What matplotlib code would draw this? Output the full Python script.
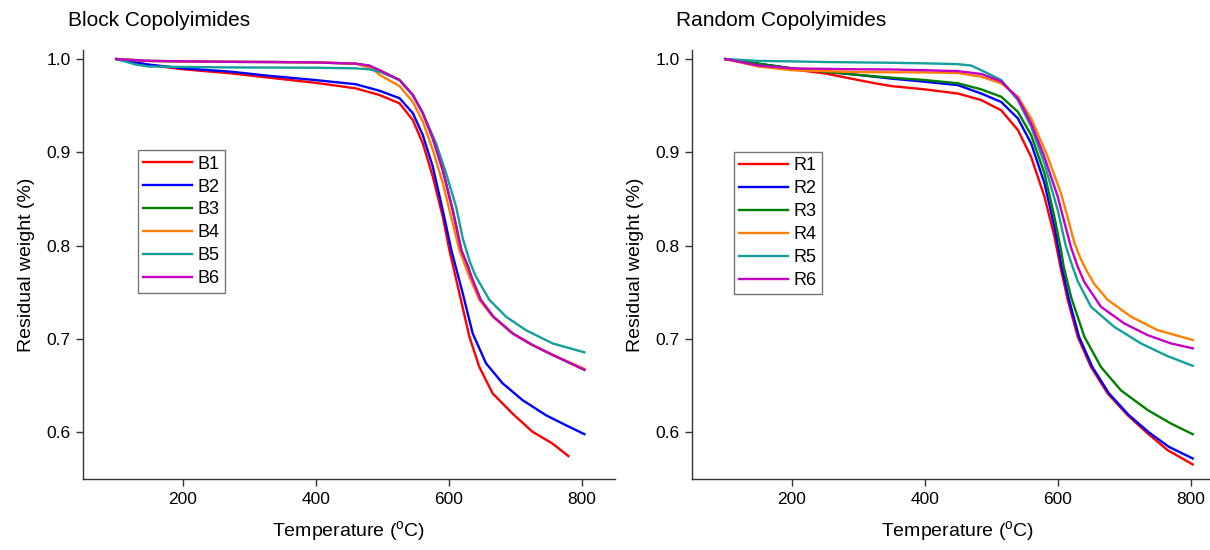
import numpy as np
import matplotlib.pyplot as plt

plt.rcParams['font.family'] = ['Liberation Sans', 'DejaVu Sans']
plt.rcParams['mathtext.default'] = 'regular'

# Block copolyimides: temperature (C) and residual weight fraction
b1_t = [100, 149, 201, 273, 330, 399, 460, 496, 526, 546, 561, 576, 591, 601, 616, 631, 646, 666, 696, 726, 756, 780]
b1_w = [1.000, 0.9936, 0.989, 0.9846, 0.980, 0.9746, 0.9686, 0.9614, 0.9525, 0.9346, 0.9096, 0.874, 0.831, 0.795,
        0.749, 0.7025, 0.670, 0.6417, 0.620, 0.6006, 0.588, 0.5745]
b2_t = [100, 149, 201, 273, 330, 399, 460, 496, 526, 546, 561, 576, 591, 604, 621, 636, 656, 681, 711, 746, 776, 804]
b2_w = [1.000, 0.994, 0.990, 0.9864, 0.982, 0.9775, 0.973, 0.966, 0.958, 0.942, 0.9185, 0.8846, 0.838, 0.795,
        0.749, 0.706, 0.674, 0.6525, 0.6345, 0.6184, 0.6077, 0.598]
b3_t = [100, 149, 201, 273, 330, 399, 460, 480, 496, 526, 546, 561, 576, 591, 606, 619, 629, 634, 648, 667, 696, 726, 756, 804]
b3_w = [1.000, 0.998, 0.9975, 0.997, 0.9968, 0.9964, 0.995, 0.993, 0.988, 0.9775, 0.9614, 0.942, 0.915, 0.881,
        0.838, 0.795, 0.7775, 0.7667, 0.742, 0.724, 0.706, 0.6935, 0.683, 0.667]
b4_t = [100, 149, 201, 273, 330, 399, 460, 485, 496, 526, 546, 561, 576, 591, 606, 616, 631, 646, 666, 696, 726, 756, 804]
b4_w = [1.000, 0.998, 0.9975, 0.997, 0.9968, 0.9965, 0.995, 0.990, 0.983, 0.971, 0.954, 0.933, 0.9025, 0.867,
        0.824, 0.795, 0.7667, 0.742, 0.724, 0.706, 0.6935, 0.683, 0.668]
b5_t = [100, 130, 149, 201, 273, 399, 460, 480, 496, 526, 546, 561, 581, 596, 611, 621, 632, 641, 661, 686, 716, 756, 804]
b5_w = [1.000, 0.994, 0.992, 0.9915, 0.991, 0.9907, 0.990, 0.989, 0.9864, 0.9775, 0.9614, 0.942, 0.9096, 0.8775,
        0.842, 0.808, 0.782, 0.7667, 0.742, 0.724, 0.7095, 0.6953, 0.6857]
b6_t = b3_t
b6_w = [1.000, 0.998, 0.9975, 0.997, 0.9968, 0.9964, 0.995, 0.993, 0.988, 0.9775, 0.9614, 0.942, 0.915, 0.881,
        0.838, 0.795, 0.7775, 0.7667, 0.742, 0.724, 0.706, 0.6935, 0.683, 0.667]

# Random copolyimides
r1_t = [100, 150, 200, 250, 300, 325, 350, 400, 450, 485, 515, 540, 560, 580, 595, 604, 615, 630, 650, 675, 705, 735, 765, 803]
r1_w = [1.000, 0.9946, 0.989, 0.9846, 0.9775, 0.974, 0.971, 0.9675, 0.963, 0.956, 0.945, 0.924, 0.895, 0.8525,
        0.81, 0.7775, 0.742, 0.7025, 0.670, 0.6417, 0.6184, 0.599, 0.581, 0.5656]
r2_t = [100, 150, 200, 250, 300, 350, 400, 450, 485, 515, 540, 560, 580, 595, 606, 617, 632, 652, 677, 707, 737, 767, 803]
r2_w = [1.000, 0.995, 0.990, 0.9864, 0.983, 0.979, 0.9757, 0.972, 0.963, 0.954, 0.9364, 0.9096, 0.867, 0.82,
        0.7775, 0.742, 0.7025, 0.670, 0.6417, 0.6184, 0.600, 0.5845, 0.572]
r3_t = [100, 150, 200, 250, 300, 350, 400, 450, 485, 515, 540, 560, 580, 595, 605, 609, 620, 640, 665, 695, 735, 770, 803]
r3_w = [1.000, 0.995, 0.990, 0.9864, 0.983, 0.980, 0.9775, 0.974, 0.9675, 0.9596, 0.9435, 0.9185, 0.8775, 0.831,
        0.795, 0.7775, 0.745, 0.7025, 0.670, 0.645, 0.624, 0.6095, 0.598]
r4_t = [100, 150, 200, 250, 300, 350, 400, 450, 485, 515, 540, 560, 585, 605, 615, 625, 635, 645, 655, 675, 710, 750, 803]
r4_w = [1.000, 0.992, 0.988, 0.987, 0.986, 0.9858, 0.9857, 0.985, 0.981, 0.974, 0.9596, 0.9364, 0.895, 0.856,
        0.830, 0.803, 0.785, 0.771, 0.759, 0.742, 0.724, 0.7095, 0.699]
r5_t = [100, 150, 200, 250, 300, 350, 400, 450, 470, 485, 515, 540, 560, 580, 600, 612, 622, 630, 650, 685, 725, 765, 803]
r5_w = [1.000, 0.998, 0.9975, 0.9968, 0.9964, 0.996, 0.9954, 0.9945, 0.993, 0.988, 0.9775, 0.956, 0.9275, 0.888,
        0.838, 0.800, 0.778, 0.762, 0.7345, 0.713, 0.6953, 0.6817, 0.6713]
r6_t = [100, 150, 200, 250, 300, 350, 400, 450, 485, 515, 540, 560, 580, 600, 610, 620, 630, 640, 665, 700, 735, 770, 803]
r6_w = [1.000, 0.993, 0.990, 0.9895, 0.989, 0.9888, 0.988, 0.987, 0.984, 0.976, 0.958, 0.931, 0.895, 0.8525,
        0.825, 0.798, 0.7775, 0.761, 0.7345, 0.7167, 0.7042, 0.6953, 0.690]

block_series = [(b1_t, b1_w), (b2_t, b2_w), (b3_t, b3_w), (b4_t, b4_w), (b5_t, b5_w), (b6_t, b6_w)]
random_series = [(r1_t, r1_w), (r2_t, r2_w), (r3_t, r3_w), (r4_t, r4_w), (r5_t, r5_w), (r6_t, r6_w)]
colors = ['#ff0000', '#0000ff', '#008000', '#ff8000', '#13a09a', '#c400c4']


def style_axes(ax):
    ax.set_xlim(50, 850)
    ax.set_ylim(0.55, 1.01)
    ax.set_xticks([200, 400, 600, 800])
    ax.set_yticks([0.6, 0.7, 0.8, 0.9, 1.0])
    ax.spines['top'].set_visible(False)
    ax.spines['right'].set_visible(False)
    for s in ['left', 'bottom']:
        ax.spines[s].set_color('#333333')
        ax.spines[s].set_linewidth(1.0)
    ax.tick_params(direction='out', length=5, width=1, color='#333333', labelsize=12.5, pad=4)
    ax.set_xlabel('Temperature ($^{o}$C)', fontsize=14, labelpad=9)
    ax.set_ylabel('Residual weight (%)', fontsize=14, labelpad=8)


fig = plt.figure(figsize=(12.1, 5.5), dpi=100)
ax1 = fig.add_axes([83 / 1210, 71 / 550, 532 / 1210, 429.3 / 550])
ax2 = fig.add_axes([692 / 1210, 71 / 550, 532 / 1210, 429.3 / 550])

for i, (t, w) in enumerate(block_series):
    ax1.plot(t, w, color=colors[i], lw=1.7, label=f'B{i + 1}')
for i, (t, w) in enumerate(random_series):
    ax2.plot(t, w, color=colors[i], lw=1.7, label=f'R{i + 1}')

style_axes(ax1)
style_axes(ax2)

leg_kw = dict(loc='upper left', borderaxespad=0, fontsize=13, handlelength=2.7,
              handletextpad=0.3, labelspacing=0.33, borderpad=0.3, fancybox=False,
              edgecolor='#777777', framealpha=1)
l1 = ax1.legend(bbox_to_anchor=(0.103, 0.766), **leg_kw)
l2 = ax2.legend(bbox_to_anchor=(0.079, 0.762), **leg_kw)
for l in (l1, l2):
    l.get_frame().set_linewidth(1.0)

fig.text(68 / 1210, 1 - 20 / 550, 'Block Copolyimides', fontsize=15, va='center', ha='left')
fig.text(676 / 1210, 1 - 20 / 550, 'Random Copolyimides', fontsize=15, va='center', ha='left')

fig.savefig('out.png', dpi=100)
